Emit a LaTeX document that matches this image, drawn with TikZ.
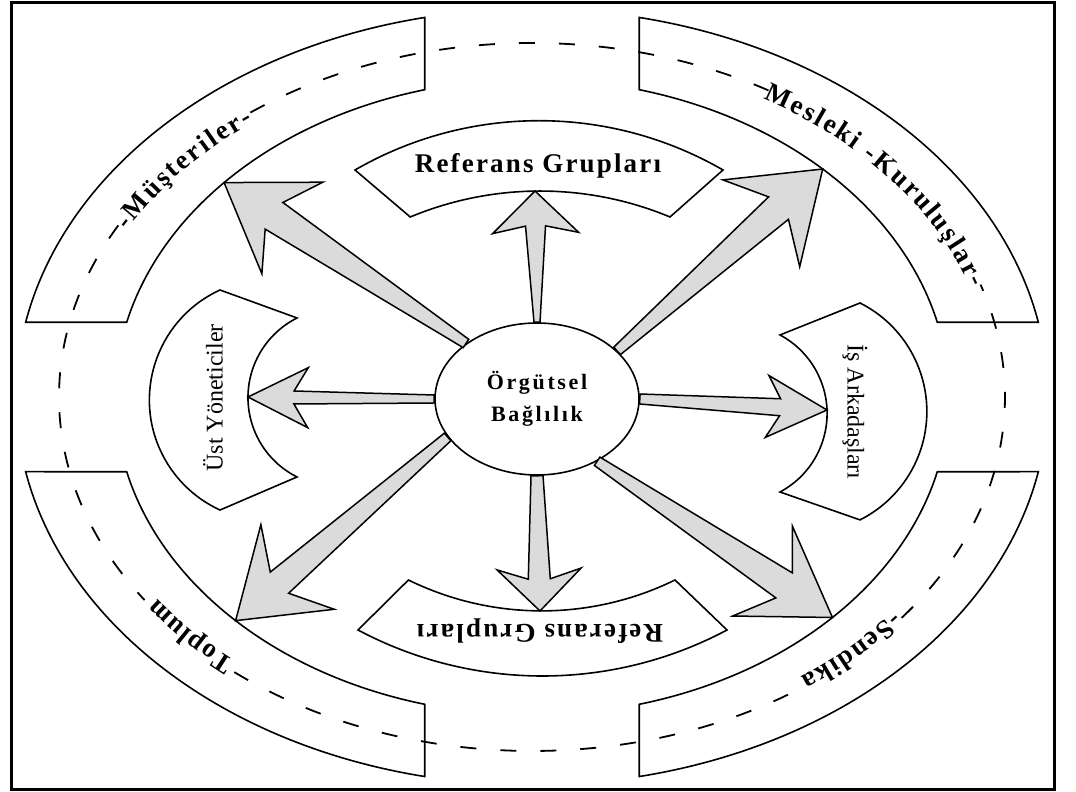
\documentclass[tikz,border=0pt]{standalone}
\usepackage{fontspec}
\setmainfont{Liberation Serif}
\usetikzlibrary{calc,shapes.geometric,decorations.text}
\newcommand\bandfont{\fontsize{27}{30}\selectfont\bfseries}
\newcommand\blockarrow[7]{%
  \coordinate (nk) at ($(#2)!#4pt!(#1)$);
  \coordinate (bb) at ($(#2)!#6pt!(#1)$);
  \draw[arr] ($(#1)!#3pt!90:(#2)$) -- ($(nk)!#5pt!90:(#2)$) -- ($(bb)!#7pt!90:(#2)$) -- (#2)
    -- ($(bb)!#7pt!-90:(#2)$) -- ($(nk)!#5pt!-90:(#2)$) -- ($(#1)!#3pt!-90:(#2)$) -- cycle;}
\begin{document}
\begin{tikzpicture}[x=1pt,y=1pt,
  band/.style={draw,line width=1.6pt,fill=white},
  blockarc/.style={draw,line width=1.6pt,fill=white},
  dashline/.style={line width=1.8pt,dash pattern=on 16pt off 24pt},
  arr/.style={draw,line width=1.5pt,fill=gray!28,line join=miter},
  boxtext/.style={font=\fontsize{27}{30}\selectfont\bfseries\addfontfeatures{LetterSpace=8}},
  sidetext/.style={font=\fontsize{24}{28}\selectfont}]
  \useasboundingbox (0,0) rectangle (1076,792);
  \draw[line width=3pt] (11,2) rectangle (1054,789);
  \coordinate (ctr) at (532,395);
  \foreach \a/\b/\c/\d in {168.9/102/104.9/166.4,78/11.1/13.6/75.1,191.1/258/255.1/193.6,-11.1/-78/-75.1/-13.6}
    \draw[band] ($(ctr)+(\a:516pt and 388pt)$) arc[start angle=\a,end angle=\b,x radius=516pt,y radius=388pt]
      -- ($(ctr)+(\c:417pt and 318pt)$) arc[start angle=\c,end angle=\d,x radius=417pt,y radius=318pt] -- cycle;
  \foreach \s/\e in {60/127,151/215,231/305.4,321.4/378.5}
    \draw[dashline] ($(ctr)+(\s:473pt and 354pt)$) arc[start angle=\s,end angle=\e,x radius=473pt,y radius=354pt];
  \path[decorate,decoration={text along path,text align=fit to path,text={|\bandfont|-Müşteriler-}}]
    ($(ctr)+(151:463pt and 344pt)$) arc[start angle=151,end angle=127,x radius=463pt,y radius=344pt];
  \path[decorate,decoration={text along path,text align=fit to path,text={|\bandfont|Mesleki -Kuruluşlar-}}]
    ($(ctr)+(60:463pt and 344pt)$) arc[start angle=60,end angle=18.5,x radius=463pt,y radius=344pt];
  \path[decorate,decoration={text along path,text align=fit to path,text={|\bandfont|Toplum}}]
    ($(ctr)+(230:463pt and 344pt)$) arc[start angle=230,end angle=216,x radius=463pt,y radius=344pt];
  \path[decorate,decoration={text along path,text align=fit to path,text={|\bandfont|-Sendika}}]
    ($(ctr)+(-38.6:463pt and 344pt)$) arc[start angle=-38.6,end angle=-54.6,x radius=463pt,y radius=344pt];
  \draw[blockarc] (355,622) arc[start angle=120,end angle=60,radius=368pt] -- (670,575) arc[start angle=67.4,end angle=112.6,radius=338pt] -- cycle;
  \draw[blockarc] (358,162) arc[start angle=242,end angle=298,radius=393pt] -- (675,212) arc[start angle=296.1,end angle=243.9,radius=303pt] -- cycle;
  \draw[blockarc] (220,502) arc[start angle=114.6,end angle=245.4,radius=121pt] -- (297,315) arc[start angle=243.3,end angle=116.7,radius=89pt] -- cycle;
  \draw[blockarc] (860,489) arc[start angle=63.3,end angle=-63.3,radius=121.4pt] -- (780,300) arc[start angle=-61.9,end angle=61.9,radius=89pt] -- cycle;
  \node[boxtext] (refT) at (538,626) {Referans Grupları};
  \node[boxtext,rotate=180] (refB) at (540,161) {Referans Grupları};
  \node[sidetext,rotate=90] (ust) at (213,394) {Üst Yöneticiler};
  \node[sidetext,rotate=-90] (isa) at (855,380) {İş Arkadaşları};
  \node[draw,ellipse,line width=1.6pt,fill=white,minimum width=204pt,minimum height=152pt,inner sep=0pt,align=center,
    font=\fontsize{22}{32}\selectfont\bfseries\addfontfeatures{LetterSpace=12}] (org) at (537,393) {Örgütsel\\Bağlılık};
  \coordinate (tUp) at (535,601);
  \coordinate (tDn) at (540,181);
  \coordinate (tLt) at (248,395);
  \coordinate (tRt) at (827,382);
  \coordinate (tUL) at ($(ctr)+(137.6:417pt and 318pt)$);
  \coordinate (tUR) at ($(ctr)+(45.8:417pt and 318pt)$);
  \coordinate (tLL) at ($(ctr)+(224.7:417pt and 318pt)$);
  \coordinate (tLR) at ($(ctr)+(316.1:417pt and 318pt)$);
  \foreach \b/\t/\p/\q/\r/\s/\u in {org.north/tUp/3/35/10/42/43,org.south/tDn/6/32/11/42/42,
      org.west/tLt/4/46/6.5/60/30,org.east/tRt/5/47/8.5/60/31,org.142/tUL/5/60/16/82/55,
      org.31/tUR/5/59/15/82/58,org.203/tLL/5/58/14/82/56,org.314/tLR/5/58/15/84/54}
    \blockarrow{\b}{\t}{\p}{\q}{\r}{\s}{\u};
\end{tikzpicture}
\end{document}
